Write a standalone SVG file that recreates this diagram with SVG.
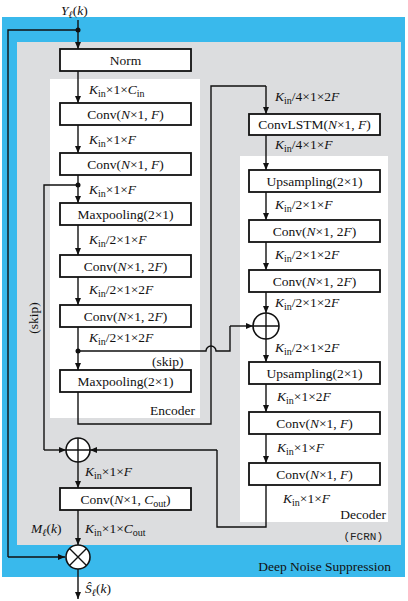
<svg xmlns="http://www.w3.org/2000/svg" width="408" height="601" viewBox="0 0 408 601" font-family="'Liberation Serif', 'Times New Roman', serif">
<style>
text{font-family:'Liberation Serif','Times New Roman',serif;fill:#111;}
.bx{fill:#fff;stroke:#111;stroke-width:1.8;}
.bt{font-size:13.5px;text-anchor:middle;}
.lb{font-size:13.5px;}
.i{font-style:italic;}
.s{font-size:10px;}
.ln{fill:none;stroke:#111;stroke-width:1.4;}
.ar{fill:none;stroke:#111;stroke-width:1.4;marker-end:url(#ah);}
.op{fill:#fff;stroke:#111;stroke-width:1.6;}
</style>
<defs>
<marker id="ah" markerUnits="userSpaceOnUse" markerWidth="8" markerHeight="6" refX="7" refY="3" orient="auto">
<path d="M0,0 L7,3 L0,6 z" fill="#111"/>
</marker>
</defs>
<rect x="2" y="17" width="403" height="560" fill="#39B9EC"/>
<rect x="17" y="42" width="384" height="503" fill="#DCDDDF"/>
<rect x="50" y="79" width="150" height="339" fill="#fff"/>
<rect x="240" y="156" width="148" height="366" fill="#fff"/>

<g id="connectors">
<path class="ar" d="M78,20 V49"/>
<path class="ln" d="M78,30 H8 V557"/>
<path class="ar" d="M8,557 H65"/>
<path class="ar" d="M78,71 V103"/>
<path class="ar" d="M78,125 V153"/>
<path class="ar" d="M78,175 V203"/>
<path class="ln" d="M78,185 H44 V450"/>
<path class="ar" d="M44,450 H66"/>
<path class="ar" d="M78,225 V255"/>
<path class="ar" d="M78,277 V305"/>
<path class="ar" d="M78,327 V370"/>
<path class="ln" d="M78,351 H206 A5,5 0 0 1 216,351 H230 V326"/>
<path class="ar" d="M230,326 H253"/>
<path class="ln" d="M78,392 V424 H211 V86 H266"/>
<path class="ar" d="M266,86 V114"/>
<path class="ar" d="M266,135 V170"/>
<path class="ar" d="M266,192 V220"/>
<path class="ar" d="M266,242 V270"/>
<path class="ar" d="M266,292 V313"/>
<path class="ar" d="M266,339 V362"/>
<path class="ar" d="M266,384 V412"/>
<path class="ar" d="M266,434 V463"/>
<path class="ln" d="M266,485 V527 H217 V450"/>
<path class="ar" d="M217,450 H90"/>
<path class="ar" d="M78,462 V488"/>
<path class="ar" d="M78,510 V545"/>
<path class="ar" d="M78,569 V599"/>
<circle cx="78" cy="30" r="2.5" fill="#111"/>
<circle cx="78" cy="185" r="2.5" fill="#111"/>
<circle cx="78" cy="351" r="2.5" fill="#111"/>
</g>

<text class="lb" x="61" y="15"><tspan class="i">Y</tspan><tspan class="s i" dy="3">ℓ</tspan><tspan dy="-3">(</tspan><tspan class="i">k</tspan>)</text>

<g id="norm"><rect class="bx" x="60" y="49" width="131" height="22"/><text class="bt" x="125.5" y="65">Norm</text></g>
<text class="lb" x="89" y="94"><tspan class="i">K</tspan><tspan class="s" dy="3">in</tspan><tspan dy="-3">×1×</tspan><tspan class="i">C</tspan><tspan class="s" dy="3">in</tspan></text>
<g id="enc-conv1"><rect class="bx" x="60" y="103" width="131" height="22"/><text class="bt" x="125.5" y="119">Conv(<tspan class="i">N</tspan>×1, <tspan class="i">F</tspan>)</text></g>
<text class="lb" x="89" y="144"><tspan class="i">K</tspan><tspan class="s" dy="3">in</tspan><tspan dy="-3">×1×</tspan><tspan class="i">F</tspan></text>
<g id="enc-conv2"><rect class="bx" x="60" y="153" width="131" height="22"/><text class="bt" x="125.5" y="169">Conv(<tspan class="i">N</tspan>×1, <tspan class="i">F</tspan>)</text></g>
<text class="lb" x="89" y="194"><tspan class="i">K</tspan><tspan class="s" dy="3">in</tspan><tspan dy="-3">×1×</tspan><tspan class="i">F</tspan></text>
<g id="enc-pool1"><rect class="bx" x="60" y="203" width="131" height="22"/><text class="bt" x="125.5" y="219">Maxpooling(2×1)</text></g>
<text class="lb" x="89" y="244"><tspan class="i">K</tspan><tspan class="s" dy="3">in</tspan><tspan dy="-3">/2×1×</tspan><tspan class="i">F</tspan></text>
<g id="enc-conv3"><rect class="bx" x="60" y="255" width="131" height="22"/><text class="bt" x="125.5" y="271">Conv(<tspan class="i">N</tspan>×1, 2<tspan class="i">F</tspan>)</text></g>
<text class="lb" x="89" y="294"><tspan class="i">K</tspan><tspan class="s" dy="3">in</tspan><tspan dy="-3">/2×1×2</tspan><tspan class="i">F</tspan></text>
<g id="enc-conv4"><rect class="bx" x="60" y="305" width="131" height="22"/><text class="bt" x="125.5" y="321">Conv(<tspan class="i">N</tspan>×1, 2<tspan class="i">F</tspan>)</text></g>
<text class="lb" x="89" y="342"><tspan class="i">K</tspan><tspan class="s" dy="3">in</tspan><tspan dy="-3">/2×1×2</tspan><tspan class="i">F</tspan></text>
<text class="lb" x="152" y="366">(skip)</text>
<g id="enc-pool2"><rect class="bx" x="60" y="370" width="131" height="22"/><text class="bt" x="125.5" y="386">Maxpooling(2×1)</text></g>
<text class="lb" x="195" y="415" text-anchor="end">Encoder</text>
<text class="lb" transform="translate(38,318) rotate(-90)" text-anchor="middle">(skip)</text>

<text class="lb" x="275" y="101"><tspan class="i">K</tspan><tspan class="s" dy="3">in</tspan><tspan dy="-3">/4×1×2</tspan><tspan class="i">F</tspan></text>
<g id="dec-lstm"><rect class="bx" x="249" y="114" width="131" height="21"/><text class="bt" x="314.5" y="129">ConvLSTM(<tspan class="i">N</tspan>×1, <tspan class="i">F</tspan>)</text></g>
<text class="lb" x="275" y="149"><tspan class="i">K</tspan><tspan class="s" dy="3">in</tspan><tspan dy="-3">/4×1×</tspan><tspan class="i">F</tspan></text>
<g id="dec-up1"><rect class="bx" x="249" y="170" width="131" height="22"/><text class="bt" x="314.5" y="186">Upsampling(2×1)</text></g>
<text class="lb" x="275" y="209"><tspan class="i">K</tspan><tspan class="s" dy="3">in</tspan><tspan dy="-3">/2×1×</tspan><tspan class="i">F</tspan></text>
<g id="dec-conv1"><rect class="bx" x="249" y="220" width="131" height="22"/><text class="bt" x="314.5" y="236">Conv(<tspan class="i">N</tspan>×1, 2<tspan class="i">F</tspan>)</text></g>
<text class="lb" x="275" y="259"><tspan class="i">K</tspan><tspan class="s" dy="3">in</tspan><tspan dy="-3">/2×1×2</tspan><tspan class="i">F</tspan></text>
<g id="dec-conv2"><rect class="bx" x="249" y="270" width="131" height="22"/><text class="bt" x="314.5" y="286">Conv(<tspan class="i">N</tspan>×1, 2<tspan class="i">F</tspan>)</text></g>
<text class="lb" x="275" y="307"><tspan class="i">K</tspan><tspan class="s" dy="3">in</tspan><tspan dy="-3">/2×1×2</tspan><tspan class="i">F</tspan></text>
<g id="dec-add"><circle class="op" cx="266" cy="326" r="13"/><path class="ln" d="M253,326 H279 M266,313 V339"/></g>
<text class="lb" x="275" y="352"><tspan class="i">K</tspan><tspan class="s" dy="3">in</tspan><tspan dy="-3">/2×1×2</tspan><tspan class="i">F</tspan></text>
<g id="dec-up2"><rect class="bx" x="249" y="362" width="131" height="22"/><text class="bt" x="314.5" y="378">Upsampling(2×1)</text></g>
<text class="lb" x="277" y="401"><tspan class="i">K</tspan><tspan class="s" dy="3">in</tspan><tspan dy="-3">×1×2</tspan><tspan class="i">F</tspan></text>
<g id="dec-conv3"><rect class="bx" x="249" y="412" width="131" height="22"/><text class="bt" x="314.5" y="428">Conv(<tspan class="i">N</tspan>×1, <tspan class="i">F</tspan>)</text></g>
<text class="lb" x="277" y="452"><tspan class="i">K</tspan><tspan class="s" dy="3">in</tspan><tspan dy="-3">×1×</tspan><tspan class="i">F</tspan></text>
<g id="dec-conv4"><rect class="bx" x="249" y="463" width="131" height="22"/><text class="bt" x="314.5" y="479">Conv(<tspan class="i">N</tspan>×1, <tspan class="i">F</tspan>)</text></g>
<text class="lb" x="283" y="503"><tspan class="i">K</tspan><tspan class="s" dy="3">in</tspan><tspan dy="-3">×1×</tspan><tspan class="i">F</tspan></text>
<text class="lb" x="386" y="519" text-anchor="end">Decoder</text>
<text x="383" y="540" text-anchor="end" style="font-family:'Liberation Mono','Courier New',monospace;font-size:11px;fill:#222">(FCRN)</text>
<text class="lb" x="391" y="571" text-anchor="end">Deep Noise Suppression</text>

<g id="skip-add"><circle class="op" cx="78" cy="450" r="12"/><path class="ln" d="M66,450 H90 M78,438 V462"/></g>
<text class="lb" x="85" y="476"><tspan class="i">K</tspan><tspan class="s" dy="3">in</tspan><tspan dy="-3">×1×</tspan><tspan class="i">F</tspan></text>
<g id="out-conv"><rect class="bx" x="60" y="488" width="131" height="22"/><text class="bt" x="125.5" y="504">Conv(<tspan class="i">N</tspan>×1, <tspan class="i">C</tspan><tspan class="s" dy="3">out</tspan><tspan dy="-3">)</tspan></text></g>
<text class="lb" x="31" y="533"><tspan class="i">M</tspan><tspan class="s i" dy="3">ℓ</tspan><tspan dy="-3">(</tspan><tspan class="i">k</tspan>)</text>
<text class="lb" x="85" y="533"><tspan class="i">K</tspan><tspan class="s" dy="3">in</tspan><tspan dy="-3">×1×</tspan><tspan class="i">C</tspan><tspan class="s" dy="3">out</tspan></text>
<g id="mult"><circle class="op" cx="78" cy="557" r="12"/><path class="ln" d="M69.5,548.5 L86.5,565.5 M86.5,548.5 L69.5,565.5"/></g>
<text class="lb" x="85" y="593"><tspan class="i">Ŝ</tspan><tspan class="s i" dy="3">ℓ</tspan><tspan dy="-3">(</tspan><tspan class="i">k</tspan>)</text>
</svg>
